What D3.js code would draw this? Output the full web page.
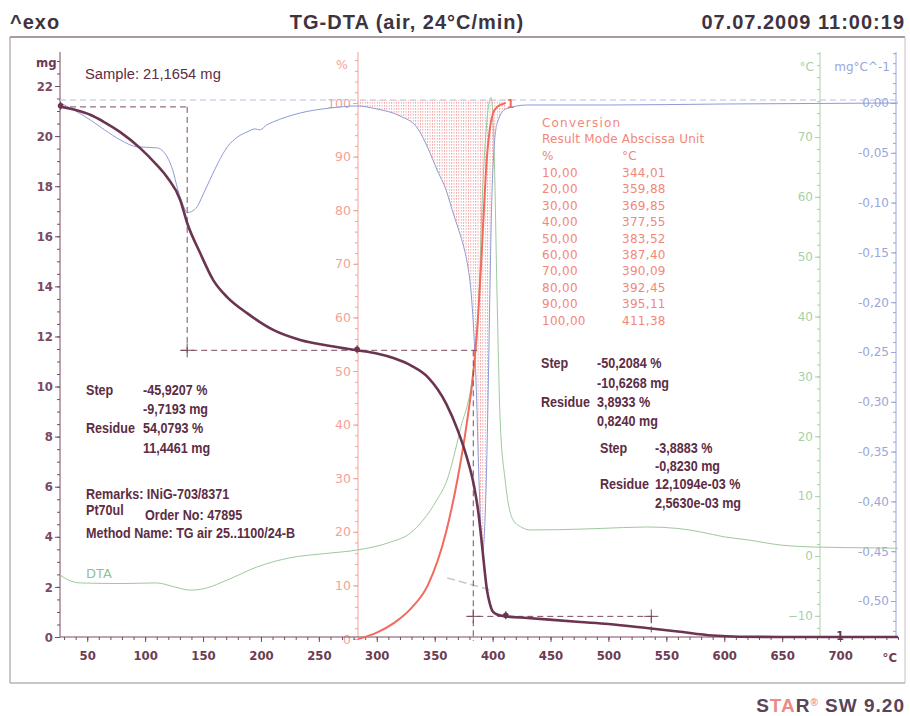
<!DOCTYPE html>
<html>
<head>
  <meta charset="utf-8">
  <script src="https://cdnjs.cloudflare.com/ajax/libs/d3/7.8.5/d3.min.js"></script>
  <title>TG-DTA</title>
  <style>
    body { margin: 0; background: #fff; }
  </style>
</head>
<body>
<script>
// ---- data ----
// TG curve, mg vs temperature
var tgTemp = [27, 40, 52.6, 65, 78.5, 95.7, 110, 119, 130.3, 136.3, 147.5, 158.8, 170.8, 188, 210.6, 233.9, 259.8, 283,
  300, 315, 330, 344.01, 359.88, 369.85, 377.55, 383.52, 387.4, 390.09, 392.45, 395.11, 397.5, 400, 404, 411.38,
  430, 475.5, 500, 533, 560, 590, 613, 650, 700, 750];
var tgMass = [21.17, 21.04, 20.85, 20.55, 20.16, 19.52, 18.85, 18.36, 17.45, 16.53, 15.33, 14.25, 13.57, 12.93, 12.26, 11.86, 11.62, 11.446,
  11.32, 11.13, 10.83, 10.38, 9.32, 8.26, 7.20, 6.13, 5.07, 4.01, 2.95, 1.88, 1.35, 1.03, 0.90, 0.824,
  0.76, 0.60, 0.52, 0.36, 0.22, 0.06, 0.01, 0, 0, 0];

// DTG curve, mg/°C
var dtgTemp = [27, 40, 52.6, 65, 78.5, 93, 110, 119, 124, 128, 133, 136.3, 140, 145, 150, 156, 163, 171, 180, 188, 195, 199, 205, 210.5,
  222, 234, 260, 283, 300, 320, 335, 344, 352, 360, 365, 370, 374, 378, 381, 384, 386, 388, 390, 391.5, 393, 394.5, 396,
  397.5, 399, 401, 404, 411.38, 430, 500, 600, 750];
var dtgVal = [0, -0.008, -0.017, -0.027, -0.037, -0.044, -0.045, -0.054, -0.068, -0.086, -0.103, -0.110, -0.109, -0.104, -0.092, -0.077, -0.060, -0.044, -0.034, -0.029, -0.026, -0.027, -0.022, -0.019,
  -0.014, -0.010, -0.005, -0.003, -0.006, -0.013, -0.025, -0.045, -0.067, -0.088, -0.107, -0.125, -0.140, -0.160, -0.185, -0.235, -0.29, -0.37, -0.43, -0.45, -0.43, -0.38, -0.30,
  -0.20, -0.11, -0.05, -0.02, -0.006, -0.002, -0.002, -0.001, 0];

// DTA curve, °C
var dtaTemp = [26.7, 33.6, 44, 80, 110, 126, 139, 152, 171, 197, 225, 255, 283, 311.5, 328.8, 340, 352, 360.7, 372, 383.2, 388, 391, 394,
  396.1, 398.7, 401.3, 403.9, 406.5, 410.8, 417.7, 425, 432.4, 458, 493, 533, 560, 580, 600, 620, 650, 677, 735, 750];
var dtaVal = [-3.2, -4.0, -4.5, -4.6, -4.5, -5.2, -5.7, -5.4, -4.0, -1.8, -0.3, 0.4, 1.0, 2.3, 3.8, 6.0, 9.4, 12.7, 21.1, 31.1, 42, 59.5, 70,
  74.6, 76.6, 67.9, 42.8, 22.7, 12.7, 6.0, 4.8, 4.35, 4.4, 4.6, 4.85, 4.6, 4.0, 3.2, 2.7, 1.8, 1.5, 1.34, 1.3];

// conversion curve, %
var convTemp = [283.7, 300, 315, 330, 344.01, 359.88, 369.85, 377.55, 383.52, 387.40, 390.09, 392.45, 395.11, 397.5, 400, 404, 411.38];
var convPct = [0, 1.2, 3, 5.8, 10, 20, 30, 40, 50, 60, 70, 80, 90, 95, 97.8, 99.3, 100];

// conversion table
var tablePct = ["10,00", "20,00", "30,00", "40,00", "50,00", "60,00", "70,00", "80,00", "90,00", "100,00"];
var tableTemp = ["344,01", "359,88", "369,85", "377,55", "383,52", "387,40", "390,09", "392,45", "395,11", "411,38"];

// step evaluation
var stepTemps = [136.3, 383.3, 537];
var stepLevels = [21.1654, 11.4461, 0.824];
var tgMarkTemps = [27, 283, 411.38];
var tangentTemp = [360.7, 397.9];
var tangentMass = [2.36, 1.88];

// tick labels
var xTicks = d3.range(50, 701, 50);
var mgTicks = d3.range(0, 23, 2);
var pctTicks = d3.range(0, 101, 10);
var dtaTicks = d3.range(-10, 71, 10);
var dtgTicks = [-0.5, -0.45, -0.4, -0.35, -0.3, -0.25, -0.2, -0.15, -0.1, -0.05, 0];

// ---- drawing ----
var W = 910, H = 716;
var maroon = "#6b3450", maroonText = "#5c2d44", salmon = "#f2877a", green = "#9dc99d", blue = "#8e9bd6";
var narrow = "'Liberation Sans Narrow', 'DejaVu Sans Condensed', 'Liberation Sans', sans-serif";
var tahoma = "'DejaVu Sans', Verdana, sans-serif";
var arial = "'Liberation Sans', Arial, sans-serif";

var svg = d3.select("body").append("svg").attr("width", W).attr("height", H);

var x = d3.scaleLinear().domain([26.5, 750]).range([60, 898]);
var yMg = d3.scaleLinear().domain([0, 22]).range([637, 86]);
var yPct = d3.scaleLinear().domain([0, 100]).range([639, 103]);
var yDta = d3.scaleLinear().domain([0, 70]).range([556, 137]);
var yDtg = d3.scaleLinear().domain([-0.5, 0]).range([601, 103]);

var loc = d3.formatLocale({decimal: ",", thousands: ".", grouping: [3], currency: ["", ""], minus: "-"});
var fmt2 = loc.format(".2f");

// frame
svg.append("line").attr("x1", 10).attr("x2", 905).attr("y1", 37).attr("y2", 37).attr("stroke", "#8a7880").attr("stroke-width", 1.5);
svg.append("line").attr("x1", 10).attr("x2", 10).attr("y1", 37).attr("y2", 683).attr("stroke", "#9a8a90");
svg.append("line").attr("x1", 905).attr("x2", 905).attr("y1", 37).attr("y2", 683).attr("stroke", "#c8c0c4");
svg.append("line").attr("x1", 10).attr("x2", 905).attr("y1", 683).attr("y2", 683).attr("stroke", "#9a8a90");

// header
function header(txt, hx, anchor) {
  svg.append("text").attr("x", hx).attr("y", 29).attr("text-anchor", anchor).attr("fill", "#3e3440")
    .style("font", "bold 20px " + arial).style("letter-spacing", "1px").text(txt);
}
header("^exo", 10, "start");
header("TG-DTA (air, 24°C/min)", 407, "middle");
header("07.07.2009 11:00:19", 905, "end");

// hatch pattern for the integrated area
var defs = svg.append("defs");
var pat = defs.append("pattern").attr("id", "hatch").attr("patternUnits", "userSpaceOnUse")
  .attr("width", 2.4).attr("height", 3);
pat.append("rect").attr("width", 0.9).attr("height", 1.7).attr("fill", "#ee8686");

var dtgPts = dtgTemp.map(function(t, i) { return [t, dtgVal[i]]; });
var hatchPts = dtgPts.filter(function(d) { return d[0] >= 283 && d[0] <= 411.38; });
svg.append("path").datum(hatchPts)
  .attr("d", d3.area().x(function(d) { return x(d[0]); }).y0(yDtg(0) - 3).y1(function(d) { return yDtg(d[1]); }).curve(d3.curveMonotoneX))
  .attr("fill", "url(#hatch)").attr("opacity", 0.8);

// axes
function leftAxis(scale, xPos, majors, minors, fmt, color, font) {
  var g = svg.append("g").attr("transform", "translate(" + xPos + ",0)");
  g.append("g").call(d3.axisLeft(scale).tickValues(minors).tickSize(3).tickFormat(""));
  g.append("g").call(d3.axisLeft(scale).tickValues(majors).tickSize(5).tickPadding(2).tickFormat(fmt));
  g.selectAll(".domain").remove();
  g.selectAll("line").attr("stroke", color);
  g.selectAll("text").attr("fill", color).style("font", font);
  g.append("line").attr("y1", 52).attr("y2", 637).attr("stroke", color);
  return g;
}
leftAxis(yMg, 60, mgTicks, d3.range(0, 23.4, 0.5), d3.format("d"), "#7a4a62", "bold 13px " + narrow);
leftAxis(yPct, 358, pctTicks, d3.range(0, 109, 2), d3.format("d"), "#f4a296", "12.5px " + tahoma);
leftAxis(yDta, 820, dtaTicks, d3.range(-12, 85, 2), d3.format("d"), "#a9d0a9", "12px " + tahoma);
leftAxis(yDtg, 896, dtgTicks, d3.range(-0.53, 0.051, 0.01), fmt2, "#9aa6da", "12px " + tahoma);

var gx = svg.append("g").attr("transform", "translate(0,637)");
gx.append("g").call(d3.axisBottom(x).tickValues(d3.range(30, 751, 10)).tickSize(3).tickFormat(""));
gx.append("g").call(d3.axisBottom(x).tickValues(xTicks).tickSize(5).tickPadding(9).tickFormat(d3.format("d")));
gx.selectAll(".domain").remove();
gx.selectAll("line").attr("stroke", "#7a4a62");
gx.selectAll("text").attr("fill", "#6b3d55").style("font", "bold 13px " + narrow);
gx.append("line").attr("x1", 60).attr("x2", 898).attr("stroke", "#7a4a62").attr("stroke-width", 1.2);

// axis unit labels
svg.append("text").attr("x", 36).attr("y", 67).attr("fill", "#6b3d55").style("font", "bold 13px " + narrow).text("mg");
svg.append("text").attr("x", 336).attr("y", 69).attr("fill", "#f4a296").style("font", "12.5px " + tahoma).text("%");
svg.append("text").attr("x", 814).attr("y", 71).attr("text-anchor", "end").attr("fill", "#a9d0a9").style("font", "12px " + tahoma).text("°C");
svg.append("text").attr("x", 890).attr("y", 71).attr("text-anchor", "end").attr("fill", "#9aa6da").style("font", "12px " + tahoma).text("mg°C^-1");
svg.append("text").attr("x", 897).attr("y", 662).attr("text-anchor", "end").attr("fill", "#6b3d55").style("font", "bold 13px " + narrow).text("°C");

// DTG zero baseline
svg.append("line").attr("x1", 60).attr("x2", 896).attr("y1", yDtg(0) - 3).attr("y2", yDtg(0) - 3)
  .attr("stroke", "#b7bde3").attr("stroke-dasharray", "6,4");

// DTA curve
var dtaPts = dtaTemp.map(function(t, i) { return [t, dtaVal[i]]; });
svg.append("path").datum(dtaPts)
  .attr("d", d3.line().x(function(d) { return x(d[0]); }).y(function(d) { return yDta(d[1]); }).curve(d3.curveMonotoneX))
  .attr("fill", "none").attr("stroke", green).attr("stroke-width", 1);

// DTG curve
svg.append("path").datum(dtgPts)
  .attr("d", d3.line().x(function(d) { return x(d[0]); }).y(function(d) { return yDtg(d[1]); }).curve(d3.curveMonotoneX))
  .attr("fill", "none").attr("stroke", blue).attr("stroke-width", 1);

// conversion curve
var convPts = convTemp.map(function(t, i) { return [t, convPct[i]]; });
svg.append("path").datum(convPts)
  .attr("d", d3.line().x(function(d) { return x(d[0]); }).y(function(d) { return yPct(d[1]); }).curve(d3.curveMonotoneX))
  .attr("fill", "none").attr("stroke", "#f26a5c").attr("stroke-width", 2);
svg.append("text").attr("x", x(411.38) + 1).attr("y", yPct(100) + 5).attr("fill", "#f26a5c")
  .style("font", "bold 12px " + narrow).text("1");

// tangent helper line
svg.append("line").attr("x1", x(tangentTemp[0])).attr("x2", x(tangentTemp[1]))
  .attr("y1", yMg(tangentMass[0])).attr("y2", yMg(tangentMass[1]))
  .attr("stroke", "#c8c4c8").attr("stroke-width", 1.5).attr("stroke-dasharray", "8,4");

// step evaluation lines
function dashed(x1, y1, x2, y2) {
  svg.append("line").attr("x1", x1).attr("y1", y1).attr("x2", x2).attr("y2", y2)
    .attr("stroke", "#7a4a62").attr("stroke-width", 1).attr("stroke-dasharray", "6,4");
}
function cross(cx, cy) {
  svg.append("path").attr("d", "M" + (cx - 7) + "," + cy + "H" + (cx + 7) + "M" + cx + "," + (cy - 7) + "V" + (cy + 7))
    .attr("stroke", "#7a4a62").attr("stroke-width", 1);
}
dashed(x(26.5), yMg(stepLevels[0]), x(stepTemps[0]), yMg(stepLevels[0]));
dashed(x(stepTemps[0]), yMg(stepLevels[0]), x(stepTemps[0]), yMg(stepLevels[1]) + 5);
dashed(x(stepTemps[0]) - 6, yMg(stepLevels[1]), x(stepTemps[1]) + 5, yMg(stepLevels[1]));
dashed(x(stepTemps[1]), yMg(stepLevels[1]), x(stepTemps[1]), 641);
dashed(x(stepTemps[1]) - 6, yMg(stepLevels[2]), x(stepTemps[2]) + 6, yMg(stepLevels[2]));
dashed(x(stepTemps[2]), yMg(stepLevels[2]), x(stepTemps[2]), 637);
cross(x(stepTemps[0]), yMg(stepLevels[1]));
cross(x(stepTemps[1]), yMg(stepLevels[2]));
cross(x(stepTemps[2]), yMg(stepLevels[2]));

// TG curve
var tgPts = tgTemp.map(function(t, i) { return [t, tgMass[i]]; });
var tgAt = d3.scaleLinear().domain(tgTemp).range(tgMass);
svg.append("path").datum(tgPts)
  .attr("d", d3.line().x(function(d) { return x(d[0]); }).y(function(d) { return yMg(d[1]); }).curve(d3.curveMonotoneX))
  .attr("fill", "none").attr("stroke", maroon).attr("stroke-width", 2.6);

tgMarkTemps.forEach(function(t) {
  var cx = x(t), cy = yMg(tgAt(t));
  svg.append("circle").attr("cx", cx).attr("cy", cy - 1).attr("r", 2.8).attr("fill", maroon);
  svg.append("line").attr("x1", cx).attr("x2", cx).attr("y1", cy - 5).attr("y2", cy + 3).attr("stroke", maroon).attr("stroke-width", 1.2);
});
svg.append("text").attr("x", x(700)).attr("y", 640).attr("text-anchor", "middle").attr("fill", maroon)
  .style("font", "bold 12px " + narrow).text("1");

// annotation texts (condensed Arial look)
function label(txt, tx, ty, color, font, sx) {
  svg.append("text").attr("transform", "translate(" + tx + "," + ty + ") scale(" + (sx || 1) + ",1)")
    .attr("fill", color).style("font", font).text(txt);
}
var annFont = "bold 14px " + arial;
var sx = 0.9;
label("Sample: 21,1654 mg", 85, 79, maroonText, "15.5px " + arial, 0.95);

label("Step", 86, 395, maroonText, annFont, sx);
label("-45,9207 %", 143, 395, maroonText, annFont, sx);
label("-9,7193 mg", 143, 414, maroonText, annFont, sx);
label("Residue", 86, 433, maroonText, annFont, sx);
label("54,0793 %", 143, 433, maroonText, annFont, sx);
label("11,4461 mg", 143, 453, maroonText, annFont, sx);
label("Remarks: INiG-703/8371", 86, 499, maroonText, annFont, sx);
label("Pt70ul", 86, 515, maroonText, annFont, sx);
label("Order No: 47895", 145, 520, maroonText, annFont, sx);
label("Method Name: TG air 25..1100/24-B", 86, 538, maroonText, annFont, sx);
label("DTA", 86, 578, "#93c293", "13px " + tahoma, 1);

label("Step", 541, 368, maroonText, annFont, sx);
label("-50,2084 %", 597, 368, maroonText, annFont, sx);
label("-10,6268 mg", 597, 388, maroonText, annFont, sx);
label("Residue", 541, 407, maroonText, annFont, sx);
label("3,8933 %", 597, 407, maroonText, annFont, sx);
label("0,8240 mg", 597, 426, maroonText, annFont, sx);
label("Step", 600, 453, maroonText, annFont, sx);
label("-3,8883 %", 655, 453, maroonText, annFont, sx);
label("-0,8230 mg", 655, 471, maroonText, annFont, sx);
label("Residue", 600, 489, maroonText, annFont, sx);
label("12,1094e-03 %", 655, 489, maroonText, annFont, sx);
label("2,5630e-03 mg", 655, 508, maroonText, annFont, sx);

// conversion table
var tabFont = "12px " + tahoma;
function tab(txt, tx, ty, spacing) {
  svg.append("text").attr("x", tx).attr("y", ty).attr("fill", salmon)
    .style("font", tabFont).style("letter-spacing", spacing + "px").text(txt);
}
tab("Conversion", 542, 127, 1.2);
tab("Result Mode Abscissa Unit", 542, 143, 0.2);
tab("%", 542, 160, 0.2);
tab("°C", 622, 160, 0.2);
tablePct.forEach(function(p, i) {
  tab(p, 542, 177 + i * 16.4, 0.3);
  tab(tableTemp[i], 622, 177 + i * 16.4, 0.3);
});

// software mark
var star = svg.append("text").attr("x", 905).attr("y", 712).attr("text-anchor", "end")
  .style("font", "bold 19px " + arial).style("letter-spacing", "1px").attr("fill", "#5a4456");
star.append("tspan").text("S");
star.append("tspan").attr("fill", "#ee8a86").text("TA");
star.append("tspan").text("R");
star.append("tspan").attr("fill", "#ee8a86").attr("dy", -6).style("font-size", "10px").text("®");
star.append("tspan").attr("dy", 6).text(" SW 9.20");
</script>
</body>
</html>
